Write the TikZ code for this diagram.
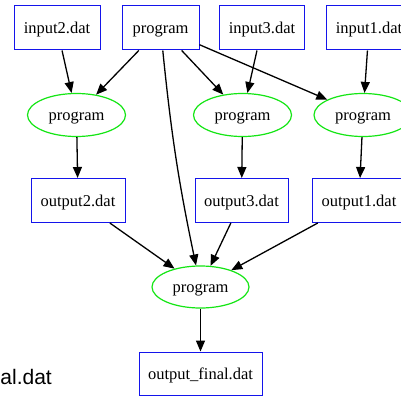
\documentclass[tikz,border=0pt]{standalone}
\usepackage{fontspec}
\setmainfont{Liberation Serif}
\setsansfont{Liberation Sans}
\usetikzlibrary{arrows.meta,shapes.geometric}
\definecolor{gvblue}{RGB}{20,20,235}
\definecolor{gvgreen}{RGB}{20,230,20}
\begin{document}
\begin{tikzpicture}[x=1pt,y=-1pt,
  gvtext/.style={font=\fontsize{16.5}{18}\selectfont,text height=12pt,text depth=1pt},
  filebox/.style={gvtext,draw=gvblue,line width=1pt,rectangle,minimum height=44pt,inner xsep=9pt},
  progbox/.style={gvtext,draw=gvblue,line width=1pt,rectangle,minimum height=44pt,minimum width=77pt},
  progell/.style={gvtext,draw=gvgreen,line width=1.2pt,ellipse,minimum width=98pt,minimum height=43pt,inner sep=0pt},
  edge/.style={line width=1.3pt,-{Triangle[length=11pt,width=9pt]}}]
\useasboundingbox (0,0) rectangle (401,396);
\fill[white] (0,0) rectangle (401,396);
\node[filebox,minimum width=86pt] (in2) at (57,28) {input2.dat};
\node[progbox] (p0) at (160.5,28) {program};
\node[filebox,minimum width=84pt] (in3) at (262,28) {input3.dat};
\node[filebox,minimum width=86pt] (in1) at (369,28) {input1.dat};
\node[progell] (pa) at (76.5,115) {program};
\node[progell] (pb) at (242.5,115) {program};
\node[progell] (pc) at (363,115) {program};
\node[filebox,minimum width=94pt] (o2) at (78,200.5) {output2.dat};
\node[filebox,minimum width=93pt] (o3) at (241.5,200.5) {output3.dat};
\node[filebox,minimum width=94pt] (o1) at (359,200.5) {output1.dat};
\node[progell,minimum width=97pt,minimum height=42pt] (pf) at (200.5,287) {program};
\node[filebox,minimum width=123pt,minimum height=43pt] (of) at (200.5,373.5) {output\_final.dat};
\node[anchor=east,inner sep=0pt,font=\sffamily\fontsize{21}{24}\selectfont] (al) at (52,377) {al.dat};
\draw[edge] (in2) -- (pa);
\draw[edge] (p0) -- (pa);
\draw[edge] (p0) to[bend right=3] (pf);
\draw[edge] (p0) -- (pb);
\draw[edge] (p0) -- (pc);
\draw[edge] (in3) -- (pb);
\draw[edge] (in1) -- (pc);
\draw[edge] (pa) -- (o2);
\draw[edge] (pb) -- (o3);
\draw[edge] (pc) -- (o1);
\draw[edge] (o2) -- (pf);
\draw[edge] (o3) -- (pf);
\draw[edge] (o1) -- (pf);
\draw[edge] (pf) -- (of);
\end{tikzpicture}
\end{document}
